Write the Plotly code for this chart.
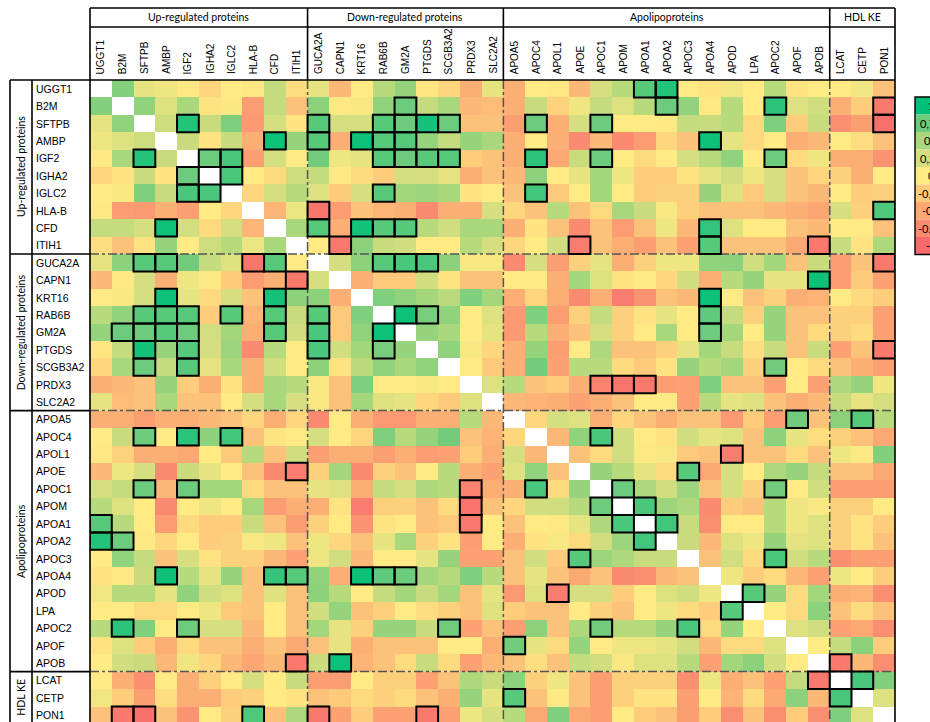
import numpy as np
import plotly.graph_objects as go

# ---------------- data ----------------
proteins = ["UGGT1", "B2M", "SFTPB", "AMBP", "IGF2", "IGHA2", "IGLC2", "HLA-B", "CFD", "ITIH1",
            "GUCA2A", "CAPN1", "KRT16", "RAB6B", "GM2A", "PTGDS", "SCGB3A2", "PRDX3", "SLC2A2",
            "APOA5", "APOC4", "APOL1", "APOE", "APOC1", "APOM", "APOA1", "APOA2", "APOC3", "APOA4",
            "APOD", "LPA", "APOC2", "APOF", "APOB",
            "LCAT", "CETP", "PON1"]
group_names = ["Up-regulated proteins", "Down-regulated proteins", "Apolipoproteins", "HDL KE"]
group_sizes = [10, 9, 15, 3]

# upper triangle of the correlation matrix (row i holds columns i+1 .. end)
r_UGGT1 = [0.65, 0.15, 0.1, 0.02, -0.15, 0, 0.02, 0.35, -0.1,
           0.15, -0.38, 0, 0.42, 0.58, -0.03, -0.15, -0.45, 0.15,
           -0.45, 0, -0.02, -0.38, 0.25, 0.42, 0.8, 0.92, 0,
           -0.05, 0.08, 0, 0.42, -0.05, 0, 0, 0.08, -0.3]
r_B2M = [0.6, 0.2, 0.5, -0.05, 0.03, -0.6, 0.35, -0.3,
         0.62, 0.02, 0.05, 0.6, 0.75, 0.35, 0.5, -0.38, -0.35,
         -0.45, 0.33, -0.18, 0.1, 0.35, 0.2, 0.42, 0.75, 0.6,
         0.02, 0.42, 0, 0.9, 0.2, 0.28, -0.45, -0.22, -0.88]
r_SFTPB = [0.3, 0.92, 0.33, 0.67, -0.62, 0.25, -0.05,
           0.8, 0.25, 0.25, 0.8, 0.75, 0.95, 0.75, -0.3, -0.3,
           -0.58, 0.75, -0.45, 0.25, 0.75, 0, 0, 0.02, 0.35,
           0.33, 0.42, -0.12, 0.67, -0.22, 0.33, -0.7, -0.58, -0.95]
r_AMBP = [0.33, -0.05, 0.33, -0.45, 0.97, 0.58,
          0.8, -0.45, 0.97, 0.8, 0.8, 0.58, 0.35, 0.58, 0.5,
          -0.45, 0, -0.45, -0.75, -0.38, -0.75, -0.6, -0.15, -0.3,
          0.97, 0.15, -0.12, 0, -0.45, -0.38, 0, -0.1, -0.3]
r_IGF2 = [0.75, 0.83, -0.58, 0.27, 0,
          0.72, 0.1, 0.15, 0.8, 0.75, 0.8, 0.8, -0.22, -0.3,
          -0.45, 0.9, -0.5, 0.33, 0.75, 0, -0.12, 0, 0.25,
          0.42, 0.6, 0, 0.75, -0.12, 0.1, -0.45, -0.45, -0.68]
r_IGHA2 = [0.83, 0, -0.12, 0.3,
           0.35, 0.02, -0.12, -0.22, 0.27, 0.25, 0.15, -0.45, -0.3,
           -0.38, 0.62, 0, 0.15, 0.52, 0.1, -0.22, -0.22, -0.05,
           0.15, 0.28, 0.1, 0.25, -0.3, -0.15, -0.2, -0.45, 0]
r_IGLC2 = [-0.15, 0.25, 0.42,
           0.2, -0.25, 0.25, 0.8, 0.52, 0.55, 0.5, -0.05, 0,
           -0.3, 0.85, -0.25, 0, 0.52, 0, -0.22, -0.2, -0.2,
           0.58, 0.2, -0.25, 0.25, -0.3, -0.38, 0, -0.22, -0.2]
r_HLAB = [-0.4, 0.12,
          -0.9, -0.6, -0.3, -0.4, -0.45, -0.75, -0.45, -0.45, 0.25,
          -0.15, -0.3, 0.42, -0.3, -0.12, 0.5, 0.33, 0.05, -0.2,
          -0.3, -0.3, -0.3, -0.38, -0.45, -0.52, 0.25, -0.2, 0.82]
r_CFD = [0.5,
         0.8, -0.45, 0.95, 0.8, 0.8, 0.42, 0.28, 0.5, 0.5,
         -0.45, -0.05, -0.3, -0.75, -0.3, -0.6, -0.3, 0.1, -0.38,
         0.88, 0.2, 0, 0, -0.3, -0.38, 0, 0, -0.3]
r_ITIH1 = [0, -0.88, 0.62, 0.33, 0.28, 0, 0, 0.42, 0.25,
           -0.15, 0, 0.28, -0.85, -0.3, -0.45, -0.58, -0.3, -0.55,
           0.8, -0.3, -0.3, -0.3, -0.5, -0.88, 0.33, -0.05, 0.48]
r_GUCA2A = [0.25, 0.62, 0.8, 0.83, 0.83, 0.62, 0.05, 0.05,
            -0.75, 0.25, -0.58, -0.2, 0.15, -0.45, -0.2, 0.1, 0.1,
            0.6, 0.62, 0.28, 0.52, -0.3, 0.33, -0.58, -0.3, -0.88]
r_CAPN1 = [-0.45, -0.25, -0.25, 0.28, -0.05, -0.3, -0.3,
           0, 0, -0.45, 0.52, 0.2, -0.05, 0, -0.15, 0.28,
           -0.45, 0.42, 0.58, 0.15, 0.15, 0.97, -0.6, -0.25, -0.55]
r_KRT16 = [0.67, 0.6, 0.52, 0.4, 0.67, 0.52,
           -0.45, -0.15, -0.45, -0.75, -0.45, -0.85, -0.68, -0.3, -0.38,
           0.97, 0, -0.3, -0.2, -0.45, -0.42, 0, -0.12, -0.22]
r_RAB6B = [0.97, 0.7, 0.6, 0, 0.2,
           -0.62, 0.67, -0.58, -0.2, 0.35, -0.2, -0.05, 0.15, 0,
           0.78, 0.35, -0.2, 0.58, -0.3, -0.3, -0.2, -0.2, -0.55]
r_GM2A = [0.58, 0.5, 0, 0.15,
          -0.62, 0.42, -0.45, -0.3, 0.25, -0.2, 0, 0.5, 0,
          0.75, 0.52, 0, 0.58, -0.3, -0.12, -0.2, -0.12, -0.55]
r_PTGDS = [0.6, 0.05, -0.15,
           -0.45, 0.58, -0.58, 0, 0.48, -0.3, -0.3, -0.2, 0.15,
           0.52, 0.33, -0.1, 0.33, -0.3, 0.33, -0.55, -0.3, -0.88]
r_SCGB3A2 = [0, -0.25,
             -0.45, 0.72, -0.55, 0.42, 0.42, -0.12, -0.25, -0.05, 0.58,
             0.42, 0.52, -0.2, 0.72, 0, -0.12, -0.3, -0.45, -0.55]
r_PRDX3 = [0.2,
           0.42, -0.3, -0.22, -0.45, -0.8, -0.92, -0.88, -0.58, -0.55,
           0.67, -0.3, -0.3, -0.55, 0, -0.55, 0.48, 0.58, 0.1]
r_SLC2A2 = [-0.38, -0.42, -0.45, -0.55, -0.45, -0.3, 0, 0, -0.55,
            0.42, 0.15, 0.2, -0.3, -0.45, -0.38, 0.33, 0.15, 0.25]
r_APOA5 = [-0.15, 0.25, 0.2, -0.45, -0.15, -0.3, -0.45, -0.3,
           -0.3, -0.62, -0.22, -0.58, 0.72, -0.3, 0.62, 0.8, 0.42]
r_APOC4 = [-0.38, 0.6, 0.83, 0.28, 0, -0.05, 0.28,
           0.15, 0.2, -0.3, 0.62, 0.15, -0.1, -0.2, -0.3, -0.5]
r_APOL1 = [-0.3, -0.12, 0.28, 0.02, 0.05, -0.25,
           -0.3, -0.85, -0.3, -0.3, -0.12, -0.3, 0.1, 0.02, 0.67]
r_APOE = [0.58, 0.42, 0.15, -0.12, 0.8,
          -0.5, 0.25, 0, 0.48, 0.58, 0.35, -0.3, -0.3, -0.5]
r_APOC1 = [0.75, 0.48, 0.28, 0.55,
           -0.3, 0.25, -0.2, 0.72, 0, 0.28, -0.58, -0.58, -0.58]
r_APOM = [0.83, 0.55, 0.48,
          -0.75, -0.22, -0.3, 0.42, 0.1, 0.05, -0.2, -0.2, 0]
r_APOA1 = [0.85, 0.33,
           -0.72, 0, 0, 0.42, 0.1, 0.2, -0.2, -0.05, -0.22]
r_APOA2 = [0.33,
           -0.38, 0.2, 0.1, 0.58, 0.15, 0.2, -0.2, -0.05, -0.3]
r_APOC3 = [-0.3, 0.28, -0.12, 0.83, 0.28, 0.42, -0.7, -0.58, -0.58]
r_APOA4 = [0.1, -0.22, -0.12, -0.38, -0.55, 0.1, 0, -0.22]
r_APOD = [0.8, 0.58, -0.12, 0.52, -0.45, -0.42, -0.72]
r_LPA = [0, -0.12, 0.62, -0.3, -0.12, -0.3]
r_APOC2 = [0.2, 0.28, -0.55, -0.5, -0.72]
r_APOF = [0, 0.35, 0.62, -0.22]
r_APOB = [-0.88, -0.38, -0.72]
r_LCAT = [0.83, 0.67]
r_CETP = [0.2]
r_PON1 = []

upper_rows = [r_UGGT1, r_B2M, r_SFTPB, r_AMBP, r_IGF2, r_IGHA2, r_IGLC2, r_HLAB, r_CFD, r_ITIH1,
              r_GUCA2A, r_CAPN1, r_KRT16, r_RAB6B, r_GM2A, r_PTGDS, r_SCGB3A2, r_PRDX3, r_SLC2A2,
              r_APOA5, r_APOC4, r_APOL1, r_APOE, r_APOC1, r_APOM, r_APOA1, r_APOA2, r_APOC3, r_APOA4,
              r_APOD, r_LPA, r_APOC2, r_APOF, r_APOB, r_LCAT, r_CETP, r_PON1]

# pairs outlined in black (significant correlations)
sig_pairs = [("UGGT1", "APOA1"), ("UGGT1", "APOA2"),
             ("B2M", "GM2A"), ("B2M", "APOA2"), ("B2M", "APOC2"), ("B2M", "PON1"),
             ("SFTPB", "IGF2"), ("SFTPB", "GUCA2A"), ("SFTPB", "RAB6B"), ("SFTPB", "GM2A"),
             ("SFTPB", "PTGDS"), ("SFTPB", "SCGB3A2"), ("SFTPB", "APOC4"), ("SFTPB", "APOC1"), ("SFTPB", "PON1"),
             ("AMBP", "CFD"), ("AMBP", "GUCA2A"), ("AMBP", "KRT16"), ("AMBP", "RAB6B"), ("AMBP", "GM2A"), ("AMBP", "APOA4"),
             ("IGF2", "IGHA2"), ("IGF2", "IGLC2"), ("IGF2", "RAB6B"), ("IGF2", "GM2A"), ("IGF2", "PTGDS"),
             ("IGF2", "SCGB3A2"), ("IGF2", "APOC4"), ("IGF2", "APOC1"), ("IGF2", "APOC2"),
             ("IGHA2", "IGLC2"), ("IGLC2", "RAB6B"), ("IGLC2", "APOC4"),
             ("HLA-B", "GUCA2A"), ("HLA-B", "PON1"),
             ("CFD", "GUCA2A"), ("CFD", "KRT16"), ("CFD", "RAB6B"), ("CFD", "GM2A"), ("CFD", "APOA4"),
             ("ITIH1", "CAPN1"), ("ITIH1", "APOE"), ("ITIH1", "APOA4"), ("ITIH1", "APOB"),
             ("GUCA2A", "RAB6B"), ("GUCA2A", "GM2A"), ("GUCA2A", "PTGDS"), ("GUCA2A", "PON1"),
             ("CAPN1", "APOB"), ("KRT16", "APOA4"), ("RAB6B", "GM2A"), ("RAB6B", "PTGDS"), ("RAB6B", "APOA4"),
             ("GM2A", "APOA4"), ("PTGDS", "PON1"), ("SCGB3A2", "APOC2"),
             ("PRDX3", "APOC1"), ("PRDX3", "APOM"), ("PRDX3", "APOA1"),
             ("APOA5", "APOF"), ("APOA5", "CETP"), ("APOC4", "APOC1"), ("APOL1", "APOD"),
             ("APOE", "APOC3"), ("APOC1", "APOM"), ("APOC1", "APOC2"), ("APOM", "APOA1"),
             ("APOA1", "APOA2"), ("APOC3", "APOC2"), ("APOD", "LPA"), ("APOB", "LCAT"), ("LCAT", "CETP")]

legend_values = [1, 0.75, 0.5, 0.25, 0, -0.25, -0.5, -0.75, -1]
legend_labels = ["1", "0,75", "0,5", "0,25", "0", "-0,25", "-0,5", "-0,75", "-1"]

# ---------------- build matrix ----------------
n = len(proteins)
Z = np.full((n, n), np.nan)
for i, row in enumerate(upper_rows):
    assert len(row) == n - 1 - i, (proteins[i], len(row))
    for k, v in enumerate(row):
        j = i + 1 + k
        Z[i, j] = v
        Z[j, i] = v

cs_stops = [(0.0, "#f8696b"), (0.125, "#fa8a70"), (0.25, "#fca873"), (0.375, "#fdc97a"),
            (0.5, "#ffea84"), (0.625, "#d6df7f"), (0.75, "#a9d77c"), (0.875, "#6ccb7c"), (1.0, "#00c079")]


def interp_color(v):
    t = (v + 1) / 2
    for (t0, c0), (t1, c1) in zip(cs_stops[:-1], cs_stops[1:]):
        if t0 <= t <= t1:
            f = 0 if t1 == t0 else (t - t0) / (t1 - t0)
            a = [int(c0[k:k + 2], 16) for k in (1, 3, 5)]
            b = [int(c1[k:k + 2], 16) for k in (1, 3, 5)]
            return "rgb(%d,%d,%d)" % tuple(round(a[m] + f * (b[m] - a[m])) for m in range(3))
    return cs_stops[-1][1]


# ---------------- geometry (pixels) ----------------
W, H = 930, 722
PL, PR, PT, PB = 90, 895, 80, 722
ROW_H = 17.4
y_bottom = -0.5 + (PB - PT) / ROW_H


def px(xp):
    return (xp - PL) / (PR - PL)


def py(yp):
    return (PB - yp) / (PB - PT)


def row_py(r):  # paper y of a data row coordinate
    return py(PT + (r + 0.5) * ROW_H)


fig = go.Figure(go.Heatmap(
    z=Z, x=list(range(n)), y=list(range(n)),
    zmin=-1, zmax=1, colorscale=[[s, c] for s, c in cs_stops],
    showscale=False, hoverinfo="skip", xgap=0, ygap=0))

shapes = []
annotations = []
LINE = dict(color="black", width=1.6)

# group boundaries
bounds = np.cumsum(group_sizes)[:-1] - 0.5
starts = np.concatenate([[0], np.cumsum(group_sizes)[:-1]])

for b in bounds:
    shapes.append(dict(type="line", xref="x", yref="y", x0=b, x1=b, y0=-0.5, y1=n - 0.5,
                       line=dict(color="#555555", width=1.5, dash="dashdot"), layer="above"))
    shapes.append(dict(type="line", xref="x", yref="y", y0=b, y1=b, x0=-0.5, x1=n - 0.5,
                       line=dict(color="#555555", width=1.5, dash="dashdot"), layer="above"))
    xb = (b + 0.5) / n
    shapes.append(dict(type="line", xref="paper", yref="paper", x0=xb, x1=xb, y0=py(PT), y1=py(8),
                       line=LINE))
    shapes.append(dict(type="line", xref="paper", yref="paper", x0=px(10), x1=0,
                       y0=row_py(b), y1=row_py(b), line=LINE))

# significant cell outlines
idx = {p: k for k, p in enumerate(proteins)}
for a, b in sig_pairs:
    i, j = idx[a], idx[b]
    for (r, c) in [(i, j), (j, i)]:
        shapes.append(dict(type="rect", xref="x", yref="y", x0=c - 0.5, x1=c + 0.5, y0=r - 0.5, y1=r + 0.5,
                           line=dict(color="black", width=2), layer="above"))

# frame lines
shapes += [
    dict(type="line", xref="paper", yref="paper", x0=0, x1=1, y0=py(8), y1=py(8), line=LINE),
    dict(type="line", xref="paper", yref="paper", x0=0, x1=1, y0=py(27), y1=py(27), line=LINE),
    dict(type="line", xref="paper", yref="paper", x0=px(10), x1=1, y0=py(PT), y1=py(PT), line=LINE),
    dict(type="line", xref="paper", yref="paper", x0=0, x1=0, y0=0, y1=py(8), line=LINE),
    dict(type="line", xref="paper", yref="paper", x0=1, x1=1, y0=0, y1=py(8), line=LINE),
    dict(type="line", xref="paper", yref="paper", x0=px(10), x1=px(10), y0=0, y1=py(PT), line=LINE),
    dict(type="line", xref="paper", yref="paper", x0=px(32), x1=px(32), y0=0, y1=py(PT), line=LINE),
]

HEAD_FONT = dict(family="Lato, Carlito, sans-serif", size=10.5, color="black")
LABEL_FONT = dict(family="Liberation Sans, Arial, sans-serif", size=10.5, color="black")
COL_FONT = dict(family="Liberation Sans, Arial, sans-serif", size=10, color="black")

# group headers (top) and group labels (left)
for g, s, name in zip(group_sizes, starts, group_names):
    xc = (s + g / 2) / n
    annotations.append(dict(text=name, xref="paper", yref="paper", x=xc, y=py(17.5),
                            showarrow=False, xanchor="center", yanchor="middle", font=HEAD_FONT))
    yc = row_py(s - 0.5 + g / 2)
    annotations.append(dict(text=name, xref="paper", yref="paper", x=px(21), y=yc, textangle=-90,
                            showarrow=False, xanchor="center", yanchor="middle", font=HEAD_FONT))

# column and row labels
for k, p in enumerate(proteins):
    annotations.append(dict(text=p, xref="paper", yref="paper", x=(k + 0.5) / n, y=py(76),
                            textangle=-90, showarrow=False, xanchor="center", yanchor="bottom",
                            font=COL_FONT))
    annotations.append(dict(text=p, xref="paper", yref="paper", x=px(34), y=row_py(k),
                            showarrow=False, xanchor="left", yanchor="middle", font=LABEL_FONT))

# colour legend (partly outside the page, as in the reference)
LG_TOP, LG_H = 97, 17.5
for k, (v, lab) in enumerate(zip(legend_values, legend_labels)):
    y0 = LG_TOP + k * LG_H
    shapes.append(dict(type="rect", xref="paper", yref="paper", x0=px(915), x1=px(975),
                       y0=py(y0), y1=py(y0 + LG_H), line=dict(width=0), fillcolor=interp_color(v)))
    annotations.append(dict(text=lab, xref="paper", yref="paper", x=px(931), y=py(y0 + LG_H / 2),
                            showarrow=False, xanchor="center", yanchor="middle",
                            font=dict(family="Lato, Carlito, sans-serif", size=11, color="black")))
shapes.append(dict(type="rect", xref="paper", yref="paper", x0=px(915), x1=px(975),
                   y0=py(LG_TOP), y1=py(LG_TOP + 9 * LG_H), line=dict(color="black", width=1.4)))

fig.update_layout(
    width=W, height=H,
    margin=dict(l=PL, r=W - PR, t=PT, b=H - PB, autoexpand=False),
    paper_bgcolor="white", plot_bgcolor="white",
    xaxis=dict(range=[-0.5, n - 0.5], visible=False, fixedrange=True),
    yaxis=dict(range=[y_bottom, -0.5], visible=False, fixedrange=True),
    shapes=shapes, annotations=annotations, showlegend=False,
)

fig.write_html("out.html", config={"displayModeBar": False},
               post_script="document.body.style.margin='0';document.body.style.overflow='hidden';")
